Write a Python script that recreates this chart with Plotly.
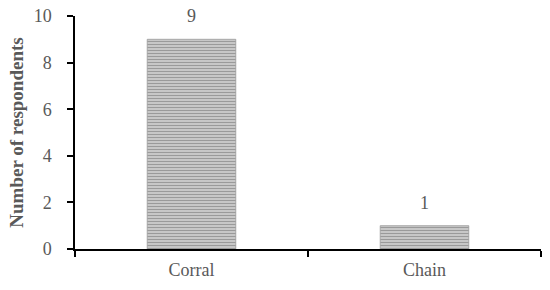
import plotly.graph_objects as go

categories = ["Corral", "Chain"]
values = [9, 1]
y_ticks = [0, 2, 4, 6, 8, 10]

font_family = "Liberation Serif, DejaVu Serif, serif"
text_color = "#595959"
fs = 18

fig = go.Figure(go.Bar(
    x=categories,
    y=values,
    width=0.38,
    cliponaxis=False,
    marker=dict(
        color="#c8c8c8",
        line=dict(color="#999999", width=0.8),
        pattern=dict(shape="-", fgcolor="#5e5e5e", bgcolor="#d6d6d6", size=3, solidity=0.5),
    ),
))

for c, v in zip(categories, values):
    fig.add_annotation(
        x=c, y=v, text=str(v), showarrow=False,
        yanchor="bottom", yshift=11,
        font=dict(family=font_family, size=fs, color=text_color),
    )

fig.update_layout(
    width=550, height=290,
    margin=dict(l=75, r=9, t=16, b=41),
    plot_bgcolor="white", paper_bgcolor="white",
    showlegend=False,
    font=dict(family=font_family, size=fs, color=text_color),
)
fig.update_xaxes(
    automargin=False,
    showline=True, linecolor="black", linewidth=1.5,
    ticks="outside", tickson="boundaries", ticklen=6, tickcolor="black", tickwidth=1.5,
    ticklabelstandoff=4,
    showgrid=False,
    tickfont=dict(family=font_family, size=fs, color=text_color),
)
fig.update_yaxes(
    automargin=False,
    range=[0, 10], tickvals=y_ticks,
    showline=True, linecolor="black", linewidth=1.5,
    ticks="outside", ticklen=6, tickcolor="black", tickwidth=1.5,
    ticklabelstandoff=12,
    showgrid=False, zeroline=False,
    tickfont=dict(family=font_family, size=fs, color=text_color),
    title=dict(text="<b>Number of respondents</b>", font=dict(family=font_family, size=19, color=text_color), standoff=5),
)

fig.write_html("out.html", post_script="document.body.style.margin='0';",
               config={"displayModeBar": False})
